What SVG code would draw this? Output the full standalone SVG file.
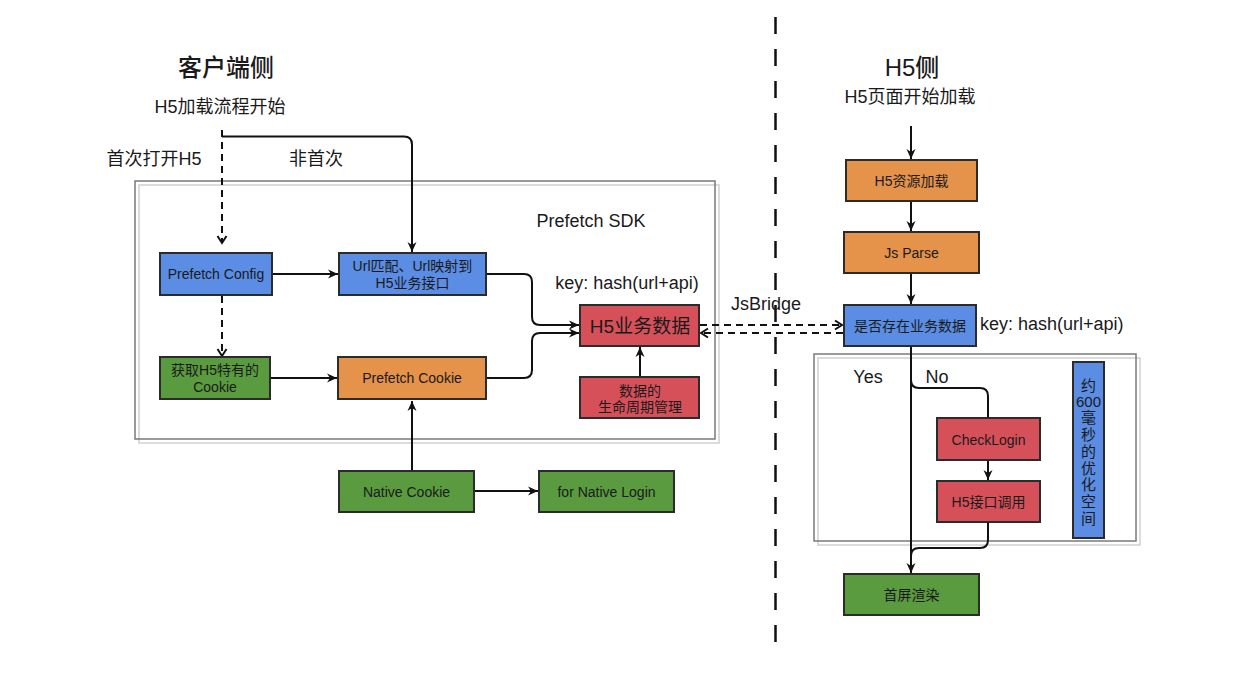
<svg xmlns="http://www.w3.org/2000/svg" width="1242" height="674" viewBox="0 0 1242 674">
<style>
text{font-family:"Liberation Sans","Noto Sans CJK SC",sans-serif;fill:#1a1a1a;dominant-baseline:central;text-anchor:middle}
.t24{font-size:24px;font-weight:500}
.t18{font-size:18px}
.t14{font-size:14px}
.t15{font-size:15px}
.node{stroke:#2b2b2b;stroke-width:2}
.blue{fill:#5b8de4}
.red{fill:#d6505a}
.orange{fill:#e5924b}
.green{fill:#5a9b40}
.line{fill:none;stroke:#111;stroke-width:2}
.dash{fill:none;stroke:#111;stroke-width:2;stroke-dasharray:7 5}
.frameDark{fill:none;stroke:#7a7a7a;stroke-width:1.5}
.frameLight{fill:none;stroke:#d0d0d0;stroke-width:1.5}
</style>
<defs>
<marker id="arr" markerUnits="userSpaceOnUse" markerWidth="12" markerHeight="12" viewBox="0 0 12 12" refX="11" refY="6" orient="auto">
<path d="M1,1.5 L11,6 L1,10.5 L4,6 z" fill="#111"/>
</marker>
<marker id="open" markerUnits="userSpaceOnUse" markerWidth="12" markerHeight="12" viewBox="0 0 12 12" refX="10" refY="6" orient="auto">
<path d="M3,1.5 L10,6 L3,10.5" fill="none" stroke="#111" stroke-width="2"/>
</marker>
</defs>
<rect width="1242" height="674" fill="#fff"/>

<g id="frames">
<rect class="frameLight" x="139" y="185" width="580" height="258"/>
<rect class="frameDark" x="135" y="181" width="580" height="258"/>
<rect class="frameLight" x="818" y="358" width="322" height="187"/>
<rect class="frameDark" x="814" y="354" width="322" height="187"/>
<line x1="775.5" y1="17" x2="775.5" y2="656" stroke="#111" stroke-width="2.5" stroke-dasharray="17 15"/>
</g>

<g id="labels">
<text class="t24" x="226" y="67">客户端侧</text>
<text class="t18" x="220" y="107">H5加载流程开始</text>
<text class="t18" x="154" y="159">首次打开H5</text>
<text class="t18" x="316" y="159">非首次</text>
<text class="t18" x="591" y="221">Prefetch SDK</text>
<text class="t18" x="627" y="283">key: hash(url+api)</text>
<text class="t18" x="766" y="304">JsBridge</text>
<text class="t24" x="912" y="67">H5侧</text>
<text class="t18" x="910" y="97">H5页面开始加载</text>
<text class="t18" x="980" y="324" style="text-anchor:start">key: hash(url+api)</text>
<text class="t18" x="868" y="377">Yes</text>
<text class="t18" x="937" y="377">No</text>
</g>

<g id="connectors">
<path class="dash" d="M222,130 V243" marker-end="url(#open)"/>
<path class="line" d="M222,136.5 H404 Q412,136.5 412,144.5 V252" marker-end="url(#arr)"/>
<path class="dash" d="M222,296 V356" marker-end="url(#open)"/>
<path class="line" d="M273,274 H338" marker-end="url(#arr)"/>
<path class="line" d="M271,378 H337" marker-end="url(#arr)"/>
<path class="line" d="M487,274 H524 Q532,274 532,282 V317 Q532,325 540,325 H579" marker-end="url(#arr)"/>
<path class="line" d="M487,378 H524 Q532,378 532,370 V341 Q532,333 540,333 H579" marker-end="url(#arr)"/>
<path class="line" d="M640,376 V347" marker-end="url(#arr)"/>
<path class="line" d="M412,470 V401" marker-end="url(#arr)"/>
<path class="line" d="M475,491 H538" marker-end="url(#arr)"/>
<path class="dash" d="M700,325 H842" marker-end="url(#open)"/>
<path class="dash" d="M843,333 H701" marker-end="url(#open)"/>
<path class="line" d="M911,126 V159" marker-end="url(#arr)"/>
<path class="line" d="M911,202 V231" marker-end="url(#arr)"/>
<path class="line" d="M911,274 V304" marker-end="url(#arr)"/>
<path class="line" d="M911,347 V573" marker-end="url(#arr)"/>
<path class="line" d="M911,380 Q911,388 919,388 H980 Q988,388 988,396 V418"/>
<path class="line" d="M988,461 V480" marker-end="url(#arr)"/>
<path class="line" d="M988,523 V540 Q988,548 980,548 H919 Q911,548 911,556"/>
</g>

<g id="prefetch-config">
<rect class="node blue" x="160" y="253" width="112" height="42"/>
<text class="t14" x="216" y="274">Prefetch Config</text>
</g>
<g id="url-match">
<rect class="node blue" x="339" y="253" width="147" height="42"/>
<text class="t14" x="412.5" y="266">Url匹配、Url映射到</text>
<text class="t14" x="412.5" y="283">H5业务接口</text>
</g>
<g id="get-cookie">
<rect class="node green" x="160" y="357" width="110" height="42"/>
<text class="t14" x="215" y="370">获取H5特有的</text>
<text class="t14" x="215" y="387">Cookie</text>
</g>
<g id="prefetch-cookie">
<rect class="node orange" x="338" y="357" width="148" height="42"/>
<text class="t14" x="412" y="378">Prefetch Cookie</text>
</g>
<g id="h5-data">
<rect class="node red" x="580" y="305" width="119" height="41"/>
<text x="640" y="326" style="font-size:19px">H5业务数据</text>
</g>
<g id="lifecycle">
<rect class="node red" x="580" y="377" width="119" height="41"/>
<text class="t14" x="640" y="391">数据的</text>
<text class="t14" x="640" y="407">生命周期管理</text>
</g>
<g id="native-cookie">
<rect class="node green" x="339" y="471" width="135" height="41"/>
<text class="t14" x="406.5" y="491.5">Native Cookie</text>
</g>
<g id="native-login">
<rect class="node green" x="539" y="471" width="135" height="41"/>
<text class="t14" x="606.5" y="491.5">for Native Login</text>
</g>
<g id="h5-resource">
<rect class="node orange" x="846" y="160" width="131" height="41"/>
<text class="t14" x="911.5" y="181">H5资源加载</text>
</g>
<g id="js-parse">
<rect class="node orange" x="844" y="232" width="135" height="41"/>
<text class="t14" x="911.5" y="253">Js Parse</text>
</g>
<g id="check-data">
<rect class="node blue" x="844" y="305" width="132" height="41"/>
<text class="t14" x="910" y="326">是否存在业务数据</text>
</g>
<g id="check-login">
<rect class="node red" x="937" y="418" width="103" height="42"/>
<text class="t14" x="988.5" y="439.5">CheckLogin</text>
</g>
<g id="h5-api">
<rect class="node red" x="937" y="481" width="103" height="41"/>
<text class="t14" x="988.5" y="502">H5接口调用</text>
</g>
<g id="render">
<rect class="node green" x="844" y="574" width="135" height="41"/>
<text class="t14" x="911.5" y="595">首屏渲染</text>
</g>
<g id="optimize">
<rect class="node blue" x="1073" y="362" width="31" height="176"/>
<text class="t15" x="1088.5" y="385">约</text>
<text class="t15" x="1088.5" y="401">600</text>
<text class="t15" x="1088.5" y="417">毫</text>
<text class="t15" x="1088.5" y="434">秒</text>
<text class="t15" x="1088.5" y="451">的</text>
<text class="t15" x="1088.5" y="468">优</text>
<text class="t15" x="1088.5" y="484">化</text>
<text class="t15" x="1088.5" y="501">空</text>
<text class="t15" x="1088.5" y="518">间</text>
</g>
</svg>
